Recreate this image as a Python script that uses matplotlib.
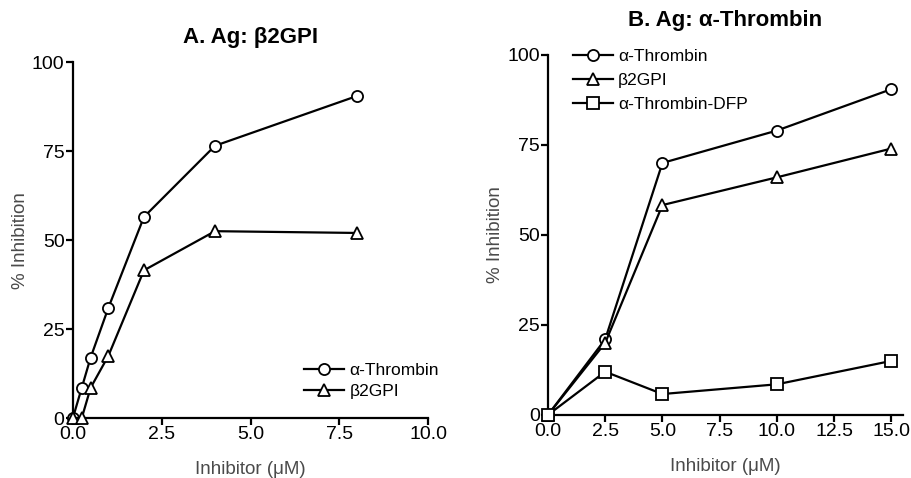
import matplotlib
matplotlib.use("Agg")
from matplotlib import pyplot as plt

plt.rcParams['font.family'] = ['Liberation Sans', 'DejaVu Sans']

# panel A: antigen b2GPI
xa = [0, 0.25, 0.5, 1, 2, 4, 8]
a_thrombin = [0, 8.5, 17, 31, 56.5, 76.5, 90.5]
xa_b2 = [0, 0.25, 0.5, 1, 2, 4, 8]
a_b2gpi = [0, 0, 8.5, 17.5, 41.5, 52.5, 52]

# panel B: antigen a-thrombin
xb = [0, 2.5, 5, 10, 15]
b_thrombin = [0, 21, 70, 79, 90.5]
b_b2gpi = [0, 20, 58.3, 66, 74]
b_dfp = [0, 12, 5.8, 8.5, 15]

yticks = [0, 25, 50, 75, 100]
xticks_a = [0, 2.5, 5, 7.5, 10]
xticks_b = [0, 2.5, 5, 7.5, 10, 12.5, 15]

fig = plt.figure(figsize=(9.11, 4.78), dpi=100)
ax1 = fig.add_axes([0.080, 0.1255, 0.390, 0.7445])
ax2 = fig.add_axes([0.6015, 0.132, 0.3895, 0.753])

mk = dict(color='black', lw=1.6, mfc='white', mec='black', mew=1.3, clip_on=False, zorder=3)
lab_col = '#4a4a4a'

ax1.plot(xa, a_thrombin, 'o-', ms=8, label='α-Thrombin', **mk)
ax1.plot(xa_b2, a_b2gpi, '^-', ms=8, label='β2GPI', **mk)
ax1.set_xlim(0, 10)
ax1.set_xticks(xticks_a)
ax1.set_title('A. Ag: β2GPI', fontsize=16, fontweight='bold', pad=14)
ax1.legend(loc='lower right', frameon=False, fontsize=12.5, handlelength=2.3,
           handletextpad=0.3, bbox_to_anchor=(1.05, 0.035), borderaxespad=0,
           labelspacing=0.3)

ax2.plot(xb, b_thrombin, 'o-', ms=8, label='α-Thrombin', **mk)
ax2.plot(xb, b_b2gpi, '^-', ms=8, label='β2GPI', **mk)
ax2.plot(xb, b_dfp, 's-', ms=9, label='α-Thrombin-DFP', **mk)
ax2.set_xlim(0, 15.5)
ax2.set_xticks(xticks_b)
ax2.set_title('B. Ag: α-Thrombin', fontsize=16, fontweight='bold', pad=21)
ax2.legend(loc='upper left', frameon=False, fontsize=12.5, handlelength=2.3,
           handletextpad=0.3, bbox_to_anchor=(0.05, 1.035), borderaxespad=0,
           labelspacing=0.5)

for ax in (ax1, ax2):
    ax.set_ylim(0, 100)
    ax.set_yticks(yticks)
    ax.xaxis.set_major_formatter(matplotlib.ticker.FormatStrFormatter('%.1f'))
    ax.spines['top'].set_visible(False)
    ax.spines['right'].set_visible(False)
    ax.spines['left'].set_linewidth(1.6)
    ax.spines['bottom'].set_linewidth(1.6)
    ax.tick_params(direction='out', length=5, width=1.6, labelsize=14, pad=1)
    ax.set_ylabel('% Inhibition', fontsize=13.5, color=lab_col, labelpad=2)
    ax.set_xlabel('Inhibitor (μM)', fontsize=13.5, color=lab_col, labelpad=13)

fig.savefig('out.png', dpi=100)
